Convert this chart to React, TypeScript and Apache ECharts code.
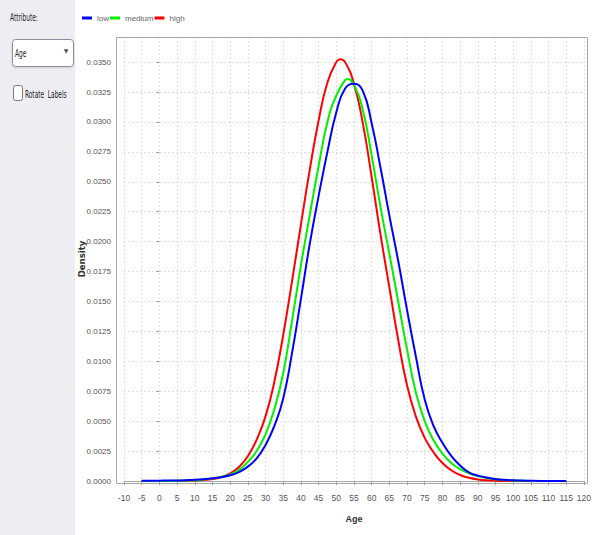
import React, { useEffect, useRef } from 'react';
import * as echarts from 'echarts';

// ---- data ----
const seriesNames = ['low', 'medium', 'high'];
const seriesColors: Record<string, string> = { low: '#0000ff', medium: '#00f000', high: '#ff0000' };

const ageValues = [
  -5, -2.5, 0, 2.5, 5, 7.5, 10,
  12.5, 15, 17.5, 20, 22.5, 25, 27.5,
  30, 32.5, 35, 37.5, 40, 42.5, 45,
  47.5, 50, 52.5, 55, 57.5, 60, 62.5,
  65, 67.5, 70, 72.5, 75, 77.5, 80,
  82.5, 85, 87.5, 90, 92.5, 95, 97.5,
  100, 102.5, 105, 107.5, 110, 112.5, 115,
];

const lowDensity = [
  0.00002, 0.00002, 0.00003, 0.00004, 0.00005, 0.00007, 0.0001,
  0.00015, 0.00022, 0.00032, 0.00048, 0.00075, 0.0012, 0.0019,
  0.003, 0.0046, 0.0069, 0.0107, 0.0152, 0.0198, 0.0238,
  0.0275, 0.0308, 0.0328, 0.0332, 0.0326, 0.0299, 0.0262,
  0.0222, 0.0184, 0.0143, 0.0104, 0.0068, 0.0046, 0.0032,
  0.0021, 0.0013, 0.00072, 0.00045, 0.00029, 0.00017, 0.0001,
  0.00006, 0.00004, 0.00002, 0.00001, 0.00001, 0, 0,
];

const mediumDensity = [
  0, 0, 0.00001, 0.00001, 0.00002, 0.00004, 0.00007,
  0.00013, 0.00022, 0.00035, 0.00055, 0.00092, 0.0016, 0.0025,
  0.0039, 0.006, 0.009, 0.0134, 0.018, 0.0222, 0.0263,
  0.03, 0.0322, 0.0335, 0.0331, 0.031, 0.0272, 0.0229,
  0.019, 0.015, 0.011, 0.0074, 0.005, 0.0034, 0.0023,
  0.0015, 0.001, 0.00065, 0.00042, 0.00025, 0.00014, 0.00008,
  0.00004, 0.00002, 0.00001, 0, 0, 0, 0,
];

const highDensity = [
  0, 0, 0, 0.00001, 0.00001, 0.00002, 0.00004,
  0.00008, 0.00016, 0.00032, 0.00063, 0.00117, 0.00207, 0.00346,
  0.0054, 0.0083, 0.0122, 0.0167, 0.0214, 0.026, 0.0301,
  0.0333, 0.035, 0.035, 0.0332, 0.0299, 0.0254, 0.0206,
  0.0162, 0.0118, 0.008, 0.0054, 0.0036, 0.0024, 0.0015,
  0.0009, 0.0005, 0.00027, 0.00013, 0.00006, 0.00003, 0.00001,
  0, 0, 0, 0, 0, 0, 0,
];

// peak of each curve (age, density), read where it falls between grid ages
const lowPeak: [number, number][] = [];
const mediumPeak: [number, number][] = [[53.3, 0.0336]];
const highPeak: [number, number][] = [[51.2, 0.03525]];

const densityByName: Record<string, number[]> = {
  low: lowDensity,
  medium: mediumDensity,
  high: highDensity,
};
const peakByName: Record<string, [number, number][]> = {
  low: lowPeak,
  medium: mediumPeak,
  high: highPeak,
};

const xAxisTitle = 'Age';
const yAxisTitle = 'Density';
const xMin = -10;
const xMax = 120;
const xStep = 5;
const yMin = 0;
const yMax = 0.0371;
const yStep = 0.0025;

const FONT = "'Liberation Sans Narrow', 'Liberation Sans', sans-serif";
const PANEL_FONT = "'DejaVu Sans Condensed', 'Liberation Sans', sans-serif";

export default function App() {
  const ref = useRef<HTMLDivElement>(null);

  useEffect(() => {
    if (!ref.current) return;
    const chart = echarts.init(ref.current, undefined, { renderer: 'svg' });

    // draw "low" last so it sits on top
    const drawOrder = ['high', 'medium', 'low'];

    const panelText = (text: string, x: number, y: number, size = 10.5) => ({
      type: 'text',
      x,
      y,
      scaleX: 0.62,
      silent: true,
      style: { text, fontSize: size, fontFamily: PANEL_FONT, fill: '#222222', verticalAlign: 'middle', align: 'left' },
    });

    const buildData = (name: string) =>
      ageValues
        .map((age, i) => [age, densityByName[name][i]] as [number, number])
        .concat(peakByName[name])
        .sort((a, b) => a[0] - b[0]);

    chart.setOption({
      animation: false,
      backgroundColor: '#ffffff',
      legend: {
        data: seriesNames,
        left: 77,
        top: 9,
        icon: 'rect',
        itemWidth: 10,
        itemHeight: 3,
        itemGap: 1,
        textStyle: { fontSize: 8, color: '#666666', fontFamily: FONT },
      },
      grid: { left: 124, right: 7.5, top: 37, bottom: 54 },
      xAxis: {
        type: 'value',
        min: xMin,
        max: xMax,
        interval: xStep,
        name: xAxisTitle,
        nameLocation: 'middle',
        nameGap: 33,
        nameMoveOverlap: false,
        nameTextStyle: { fontSize: 9, fontWeight: 'bold', color: '#333333', fontFamily: FONT },
        axisLine: { show: true, lineStyle: { color: '#a8a8a8', width: 1 } },
        axisTick: { show: true, length: 4, lineStyle: { color: '#999999' } },
        axisLabel: {
          fontSize: 8.5,
          color: '#555555',
          fontFamily: FONT,
          margin: 12,
          formatter: (v: number) => String(v),
        },
        splitLine: { show: true, lineStyle: { color: '#e2e2e2', type: [2, 2], width: 1 } },
      },
      yAxis: {
        type: 'value',
        min: yMin,
        max: yMax,
        interval: yStep,
        offset: 8,
        name: yAxisTitle,
        nameLocation: 'middle',
        nameGap: 30,
        nameMoveOverlap: false,
        nameTextStyle: { fontSize: 8.5, fontWeight: 'bold', color: '#333333', fontFamily: "'DejaVu Sans', sans-serif" },
        axisLine: { show: false },
        axisTick: { show: true, length: 3, lineStyle: { color: '#999999' } },
        axisLabel: {
          fontSize: 8,
          color: '#555555',
          fontFamily: FONT,
          margin: 5,
          formatter: (v: number) => {
            const k = v / yStep;
            return Math.abs(k - Math.round(k)) < 1e-6 ? v.toFixed(4) : '';
          },
        },
        splitLine: { show: true, lineStyle: { color: '#e2e2e2', type: [2, 2], width: 1 } },
      },
      graphic: [
        {
          type: 'rect',
          silent: true,
          z: -1,
          shape: { x: 0, y: 0, width: 75, height: 535 },
          style: { fill: '#eeeef2' },
        },
        {
          type: 'rect',
          silent: true,
          z: 10,
          shape: { x: 116.5, y: 37.5, width: 471, height: 446 },
          style: { fill: 'none', stroke: '#a8a8a8', lineWidth: 1 },
        },
        panelText('Attribute:', 10, 17),
        {
          type: 'rect',
          silent: true,
          shape: { x: 12.5, y: 39.5, width: 61, height: 27, r: 3 },
          style: { fill: '#ffffff', stroke: '#8c8ca0', lineWidth: 1, shadowBlur: 2, shadowColor: 'rgba(0,0,0,0.15)', shadowOffsetY: 1 },
        },
        panelText('Age', 15, 53),
        {
          type: 'text',
          x: 66,
          y: 50,
          silent: true,
          style: { text: '▼', fontSize: 6, fontFamily: "'DejaVu Sans', sans-serif", fill: '#555555', verticalAlign: 'middle', align: 'center' },
        },
        {
          type: 'rect',
          silent: true,
          shape: { x: 13.5, y: 85.5, width: 9, height: 15, r: 2 },
          style: { fill: '#ffffff', stroke: '#7a7a7a', lineWidth: 1 },
        },
        panelText('Rotate  Labels', 25, 94),
      ],
      series: drawOrder.map((name) => ({
        name,
        type: 'line',
        data: buildData(name),
        showSymbol: false,
        symbol: 'none',
        smooth: 0.5,
        color: seriesColors[name],
        lineStyle: { color: seriesColors[name], width: 2 },
      })),
    });

    return () => chart.dispose();
  }, []);

  return <div ref={ref} style={{ position: 'fixed', left: 0, top: 0, width: 594, height: 535 }} />;
}
